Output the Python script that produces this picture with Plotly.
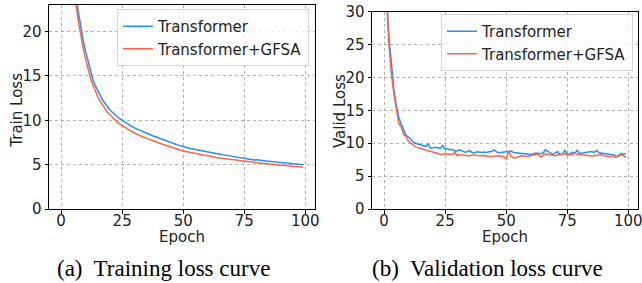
import plotly.graph_objects as go

epochs = list(range(100))

train_transformer = [
    75, 54, 42, 34.5, 29.5, 26.5, 24.2, 22.3, 20.6, 19.1,
    17.8, 16.7, 15.4, 14.6, 13.9, 13.3, 12.8, 12.3, 11.9, 11.5,
    11.2, 10.9, 10.6, 10.4, 10.2, 10.0, 9.8, 9.62, 9.45, 9.3,
    9.15, 9.02, 8.89, 8.77, 8.65, 8.54, 8.43, 8.32, 8.21, 8.1,
    8.0, 7.9, 7.8, 7.7, 7.6, 7.5, 7.4, 7.3, 7.2, 7.1,
    7.0, 6.95, 6.88, 6.82, 6.76, 6.7, 6.64, 6.58, 6.53, 6.48,
    6.43, 6.38, 6.33, 6.28, 6.23, 6.18, 6.13, 6.08, 6.03, 5.99,
    5.97, 5.93, 5.85, 5.78, 5.72, 5.66, 5.62, 5.58, 5.55, 5.52,
    5.56, 5.5, 5.46, 5.43, 5.4, 5.37, 5.34, 5.31, 5.28, 5.25,
    5.22, 5.19, 5.16, 5.13, 5.1, 5.08, 5.06, 5.04, 5.02, 5.0,
]

train_gfsa = [
    72, 52, 40.5, 33, 28.5, 25.4, 23.2, 21.3, 19.6, 18.2,
    16.9, 15.8, 14.8, 14.0, 13.3, 12.7, 12.2, 11.7, 11.3, 10.9,
    10.6, 10.3, 10.0, 9.8, 9.6, 9.4, 9.22, 9.05, 8.89, 8.74,
    8.55, 8.42, 8.3, 8.18, 8.07, 7.96, 7.85, 7.75, 7.65, 7.55,
    7.45, 7.35, 7.25, 7.16, 7.07, 6.98, 6.89, 6.8, 6.71, 6.62,
    6.54, 6.48, 6.42, 6.36, 6.3, 6.24, 6.18, 6.13, 6.08, 6.03,
    5.98, 5.93, 5.88, 5.83, 5.79, 5.75, 5.71, 5.67, 5.63, 5.59,
    5.55, 5.51, 5.47, 5.43, 5.4, 5.37, 5.34, 5.31, 5.28, 5.25,
    5.22, 5.19, 5.16, 5.13, 5.1, 5.07, 5.04, 5.01, 4.98, 4.96,
    4.94, 4.91, 4.88, 4.86, 4.83, 4.8, 4.78, 4.75, 4.73, 4.7,
]

valid_transformer = [
    48, 33, 26, 21.5, 18.2, 15.8, 14.0, 12.9, 12.0, 11.2,
    10.9, 10.6, 10.1, 10.0, 9.9, 9.75, 9.6, 9.5, 9.9, 9.25,
    9.3, 9.4, 9.3, 9.2, 9.65, 9.1, 9.2, 9.0, 9.05, 8.75,
    8.85, 9.0, 8.8, 8.65, 8.7, 8.9, 8.6, 8.55, 8.7, 8.6,
    8.6, 8.65, 8.6, 8.7, 8.75, 9.0, 8.7, 8.55, 8.6, 8.65,
    8.6, 8.7, 8.8, 8.6, 8.55, 8.5, 8.45, 8.4, 8.35, 8.3,
    8.3, 8.35, 8.5, 8.45, 8.4, 8.45, 9.0, 8.8, 8.6, 8.3,
    8.5, 8.75, 8.3, 8.35, 8.9, 8.3, 8.4, 8.6, 8.45, 8.9,
    8.45, 8.5, 8.55, 8.6, 8.65, 8.75, 8.6, 8.9, 8.55, 8.5,
    8.45, 8.45, 8.4, 8.3, 8.2, 8.0, 8.1, 8.45, 8.3, 8.5,
]

valid_gfsa = [
    46, 32, 25, 20.5, 17.5, 15.3, 13.0, 12.5, 11.3, 11.0,
    10.3, 10.0, 9.7, 9.4, 9.3, 9.2, 9.1, 8.95, 8.8, 8.75,
    8.6, 8.5, 8.45, 8.25, 8.35, 8.4, 8.3, 8.35, 8.25, 8.6,
    8.1, 8.25, 8.25, 8.15, 8.1, 8.1, 8.2, 8.25, 8.15, 8.1,
    8.1, 8.15, 8.05, 8.0, 8.0, 8.05, 8.1, 8.1, 8.0, 8.0,
    7.6, 8.8, 8.0, 7.8, 7.8, 7.95, 8.1, 8.05, 8.0, 8.0,
    8.1, 8.25, 8.2, 8.4, 7.9, 8.2, 8.4, 8.3, 8.2, 8.1,
    8.1, 8.2, 8.25, 8.3, 8.4, 8.2, 8.25, 8.25, 8.5, 8.3,
    8.3, 8.25, 8.2, 8.1, 8.0, 8.05, 8.1, 8.15, 8.2, 8.25,
    8.1, 8.0, 8.0, 7.95, 7.9, 7.9, 8.0, 8.25, 8.1, 7.8,
]

x_ticks = [0, 25, 50, 75, 100]
train_y_ticks = [0, 5, 10, 15, 20]
valid_y_ticks = [0, 5, 10, 15, 20, 25, 30]
series_names = ["Transformer", "Transformer+GFSA"]
captions = ["(a)  Training loss curve", "(b)  Validation loss curve"]

BLUE = "#1E90FF"
RED = "#FF6347"
SANS = "DejaVu Sans"
SERIF = "Liberation Serif"
W, H = 642, 283
FS = 15

fig = go.Figure()
fig.add_trace(go.Scatter(x=epochs, y=train_transformer, mode="lines", name=series_names[0],
                         line=dict(color=BLUE, width=1.5), xaxis="x", yaxis="y", legend="legend"))
fig.add_trace(go.Scatter(x=epochs, y=train_gfsa, mode="lines", name=series_names[1],
                         line=dict(color=RED, width=1.5), xaxis="x", yaxis="y", legend="legend"))
fig.add_trace(go.Scatter(x=epochs, y=valid_transformer, mode="lines", name=series_names[0],
                         line=dict(color=BLUE, width=1.5), xaxis="x2", yaxis="y2", legend="legend2"))
fig.add_trace(go.Scatter(x=epochs, y=valid_gfsa, mode="lines", name=series_names[1],
                         line=dict(color=RED, width=1.5), xaxis="x2", yaxis="y2", legend="legend2"))

def px_x(p):
    return p / W

def px_y(p):
    return (H - p) / H

axis_common = dict(showline=True, mirror=True, linecolor="black", linewidth=1,
                   ticks="outside", ticklen=3.5, tickcolor="black", tickwidth=1,
                   showgrid=True, gridcolor="#b0b0b0", griddash="dot", gridwidth=1,
                   zeroline=False, automargin=False, ticklabeloverflow="allow",
                   tickfont=dict(family=SANS, size=FS, color="#222"))

legend_common = dict(xanchor="left", yanchor="top",
                     bgcolor="rgba(255,255,255,0.8)", bordercolor="#d5d5d5", borderwidth=1,
                     font=dict(family=SANS, size=FS, color="#222"), itemwidth=30,
                     tracegroupgap=0)

fig.update_layout(
    width=W, height=H,
    autosize=False,
    margin=dict(l=0, r=0, t=0, b=0, pad=0, autoexpand=False),
    paper_bgcolor="white", plot_bgcolor="white",
    xaxis=dict(domain=[px_x(49), px_x(315)], range=[-4.95, 103.95], tickvals=x_ticks,
               anchor="y", ticklabelstandoff=-6, **axis_common),
    yaxis=dict(domain=[px_y(209), px_y(5)], range=[0, 23], tickvals=train_y_ticks,
               anchor="x", **axis_common),
    xaxis2=dict(domain=[px_x(372), px_x(638)], range=[-4.95, 103.95], tickvals=x_ticks,
                anchor="y2", ticklabelstandoff=-6, **axis_common),
    yaxis2=dict(domain=[px_y(209), px_y(11.7)], range=[0, 30], tickvals=valid_y_ticks,
                anchor="x2", **axis_common),
    legend=dict(x=px_x(117), y=px_y(9), **legend_common),
    legend2=dict(x=px_x(441), y=px_y(14), **legend_common),
    showlegend=True,
)

annots = [
    dict(text="Epoch", x=px_x((49 + 315) / 2), y=px_y(237), font=dict(size=FS)),
    dict(text="Epoch", x=px_x((372 + 638) / 2), y=px_y(237), font=dict(size=FS)),
    dict(text="Train Loss", x=px_x(16.7), y=px_y(110), textangle=-90, font=dict(size=FS)),
    dict(text="Valid Loss", x=px_x(340), y=px_y(111), textangle=-90, font=dict(size=FS)),
    dict(text=captions[0], x=px_x(164), y=px_y(268),
         font=dict(family=SERIF, size=23, color="black")),
    dict(text=captions[1], x=px_x(487.5), y=px_y(268),
         font=dict(family=SERIF, size=23, color="black")),
]
for a in annots:
    f = dict(family=SANS, color="#222")
    f.update(a.pop("font"))
    fig.add_annotation(xref="paper", yref="paper", xanchor="center", yanchor="middle",
                       showarrow=False, font=f, **a)

# The page's default body margin would shift the figure; remove it so the
# 642x283 figure fills the 642x283 window exactly.
fig.write_html(
    "out.html",
    config={"displayModeBar": False},
    post_script="document.documentElement.style.margin='0';"
                "document.body.style.margin='0';"
                "document.body.style.overflow='hidden';",
)
